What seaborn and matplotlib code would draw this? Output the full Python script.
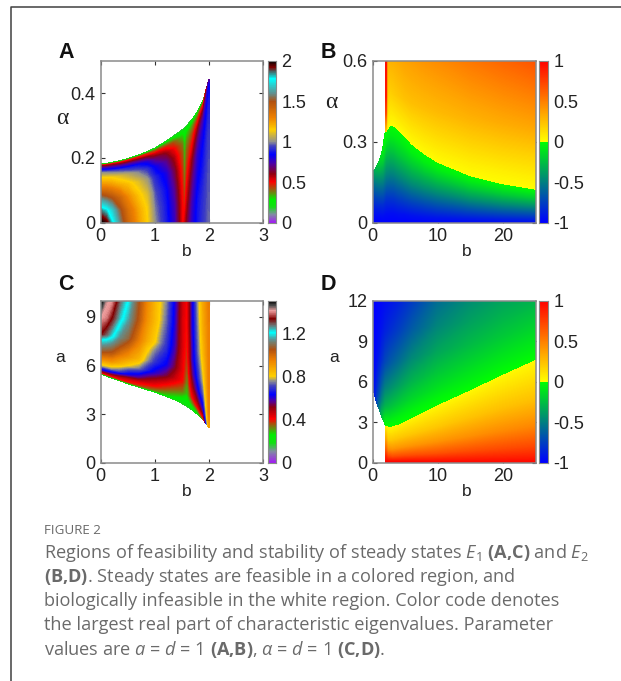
import numpy as np
import seaborn as sns
import matplotlib
matplotlib.use("Agg")
import matplotlib.pyplot as plt
from matplotlib.colors import LinearSegmentedColormap
from matplotlib.lines import Line2D

W, H = 621, 681

# colour stops
stops_a = [(0, "#a020f0"), (.05, "#7f8f9f"), (.1, "#10e010"), (.14, "#00ee00"), (.19, "#7a7a10"), (.25, "#ff0000"),
           (.3, "#900010"), (.36, "#5000a0"), (.42, "#0000ff"), (.47, "#4040c0"), (.5, "#909090"), (.575, "#ffd000"),
           (.65, "#ee8000"), (.75, "#b05010"), (.8, "#609090"), (.89, "#00ffff"), (.94, "#505050"), (.96, "#800000"),
           (1, "#000000")]
stops_c = [(0, "#a020f0"), (.07, "#7f8f9f"), (.12, "#10e010"), (.17, "#00ee00"), (.22, "#7a7a10"), (.27, "#ff0000"),
           (.34, "#900010"), (.38, "#5000a0"), (.42, "#0000ff"), (.47, "#4040c0"), (.505, "#909090"), (.535, "#ffd000"),
           (.635, "#ee8000"), (.7, "#b05010"), (.76, "#609090"), (.805, "#00ffff"), (.85, "#707070"), (.89, "#800000"),
           (.94, "#f0a0a0"), (.97, "#505050"), (1, "#000000")]
stops_bd = [(0, "#0000ff"), (.5, "#00ff00"), (.5, "#ffff00"), (1, "#ff0000")]

# panel A: values along b, rows are fractions of the feasible height
a_b = [0, .1, .2, .35, .5, .7, .85, 1.0, 1.2, 1.35, 1.5, 1.55, 1.6, 1.7, 1.8, 1.9, 2.0]
a_top = [.18, .182, .185, .19, .197, .208, .218, .229, .25, .267, .285, .292, .30, .32, .345, .378, .44]
a_frac = [0, .2, .4, .6, .75, .85, .92, .97, 1]
a_vals = [[2.0, 1.85, 1.6, 1.3, 1.16, 1.0, .78, .58, .2],
          [1.95, 1.8, 1.55, 1.3, 1.15, .98, .75, .54, .2],
          [1.8, 1.7, 1.5, 1.27, 1.14, .95, .73, .53, .2],
          [1.58, 1.52, 1.4, 1.22, 1.1, .92, .7, .5, .2],
          [1.4, 1.36, 1.28, 1.18, 1.05, .88, .68, .48, .2],
          [1.24, 1.22, 1.17, 1.1, .98, .85, .65, .45, .18],
          [1.15, 1.14, 1.1, 1.02, .92, .8, .6, .42, .18],
          [1.0, .98, .95, .9, .82, .68, .54, .38, .15],
          [.88, .87, .85, .8, .7, .6, .48, .32, .15],
          [.76, .74, .7, .64, .57, .5, .42, .29, .15],
          [.5, .5, .48, .45, .42, .38, .32, .26, .15],
          [.52, .45, .38, .32, .3, .28, .26, .24, .15],
          [.62, .56, .5, .44, .40, .35, .30, .25, .15],
          [.78, .74, .68, .6, .5, .43, .36, .28, .18],
          [.87, .86, .82, .77, .68, .58, .46, .33, .2],
          [.92, .91, .88, .85, .8, .72, .6, .45, .25],
          [.97, .96, .95, .93, .9, .88, .85, .8, .7]]

# panel C: rows are fractions from the lower edge up to a = 10
c_b = [0, .1, .2, .35, .5, .7, .85, 1.0, 1.2, 1.35, 1.5, 1.6, 1.7, 1.8, 1.9, 2.0]
c_low = [5.5, 5.37, 5.25, 5.07, 4.9, 4.68, 4.53, 4.37, 4.13, 3.93, 3.68, 3.48, 3.25, 2.98, 2.65, 2.2]
c_frac = [0, .02, .07, .12, .22, .33, .47, .55, .78, 1]
c_vals = [[.2, .4, .62, .78, .95, 1.08, 1.2, 1.33, 1.41, 1.5],
          [.2, .38, .6, .76, .93, 1.06, 1.18, 1.28, 1.39, 1.42],
          [.2, .38, .58, .75, .92, 1.04, 1.15, 1.22, 1.33, 1.4],
          [.2, .38, .52, .7, .86, .97, 1.08, 1.13, 1.23, 1.28],
          [.2, .38, .47, .62, .8, .92, 1.02, 1.08, 1.15, 1.2],
          [.2, .36, .44, .56, .74, .85, .92, .96, 1.03, 1.05],
          [.2, .34, .42, .5, .66, .76, .82, .87, .92, .94],
          [.18, .32, .4, .46, .6, .68, .75, .8, .84, .85],
          [.18, .28, .35, .4, .53, .62, .67, .69, .73, .75],
          [.17, .25, .31, .36, .46, .53, .57, .59, .61, .62],
          [.16, .2, .27, .33, .4, .42, .43, .44, .44, .45],
          [.15, .2, .24, .27, .3, .33, .36, .37, .39, .4],
          [.16, .22, .32, .4, .48, .54, .58, .58, .6, .6],
          [.2, .28, .42, .5, .6, .66, .7, .72, .74, .76],
          [.3, .4, .55, .62, .72, .78, .82, .84, .87, .88],
          [.9, .9, .92, .94, .94, .95, .95, .95, .95, .96]]

# panel B: stable part below the zero line, unstable part above it
bl_b = [0, .5, 1, 1.5, 2, 2.7, 3.3, 4, 5, 6, 8, 10, 15, 20, 25]
bl_z = [.183, .2, .225, .265, .34, .365, .358, .345, .32, .293, .255, .225, .175, .145, .125]
bl_frac = [0, .1, .25, .5, .75, .9, 1]
bl_vals = [[-1, -.98, -.93, -.8, -.62, -.5, -.42],
           [-1, -.97, -.9, -.72, -.52, -.38, -.3],
           [-1, -.97, -.87, -.65, -.42, -.27, -.18],
           [-1, -.95, -.83, -.58, -.32, -.15, -.08],
           [-1, -.95, -.82, -.52, -.25, -.08, -.01],
           [-1, -.95, -.8, -.5, -.22, -.07, -.01],
           [-1, -.95, -.8, -.5, -.22, -.07, -.01],
           [-1, -.94, -.78, -.48, -.2, -.07, -.01],
           [-1, -.94, -.77, -.47, -.2, -.07, -.01],
           [-1, -.93, -.76, -.46, -.2, -.06, -.01],
           [-1, -.92, -.75, -.46, -.2, -.06, -.01],
           [-.99, -.91, -.74, -.46, -.2, -.06, -.01],
           [-.98, -.9, -.73, -.45, -.2, -.07, -.01],
           [-.98, -.89, -.72, -.45, -.2, -.08, -.01],
           [-.97, -.88, -.72, -.45, -.2, -.08, -.01]]
bu_b = [2, 2.2, 2.7, 3.3, 4, 5, 6, 8, 10, 15, 20, 25]
bu_z = [.34, .347, .365, .358, .345, .32, .293, .255, .225, .175, .145, .125]
bu_frac = [0, .1, .25, .5, 1]
bu_vals = [[.2, .4, .7, .9, .95],
           [.02, .06, .12, .2, .3],
           [.01, .05, .1, .18, .3],
           [.01, .05, .11, .2, .31],
           [.01, .06, .12, .22, .33],
           [.01, .06, .125, .24, .36],
           [.01, .06, .13, .25, .38],
           [.01, .06, .135, .26, .42],
           [.01, .06, .14, .27, .45],
           [.01, .06, .15, .3, .53],
           [.01, .06, .16, .33, .6],
           [.01, .07, .17, .36, .67]]

# panel D: unstable part below the zero line, stable part above it
dl_b = [2, 2.25, 3, 5, 10, 15, 20, 25]
dl_z = [2.8, 2.72, 2.72, 3.2, 4.35, 5.45, 6.6, 7.7]
dl_frac = [0, .05, .15, .35, .6, 1]
dl_vals = [[1, .95, .85, .6, .35, .02],
           [1, .92, .75, .45, .22, .01],
           [1, .9, .7, .42, .22, .01],
           [.99, .9, .7, .42, .22, .01],
           [.97, .88, .68, .42, .22, .01],
           [.97, .88, .7, .44, .24, .01],
           [.97, .88, .71, .46, .25, .01],
           [.97, .88, .72, .47, .25, .01]]
du_b = [0, .5, 1, 1.5, 2, 2.65, 4, 6, 10, 15, 20, 25]
du_z = [5.63, 4.7, 4.0, 3.3, 2.8, 2.7, 2.9, 3.4, 4.35, 5.45, 6.6, 7.7]
du_frac = [0, .05, .15, .3, .5, .75, 1]
du_vals = [[-1, -1, -1, -1, -1, -1, -1],
           [-.85, -.88, -.92, -.96, -.98, -.99, -1],
           [-.55, -.6, -.72, -.82, -.92, -.96, -.98],
           [-.25, -.3, -.48, -.65, -.82, -.92, -.97],
           [-.02, -.1, -.3, -.5, -.72, -.87, -.95],
           [-.01, -.08, -.25, -.45, -.66, -.83, -.93],
           [-.01, -.06, -.2, -.38, -.58, -.76, -.88],
           [-.01, -.05, -.16, -.3, -.47, -.65, -.78],
           [-.01, -.04, -.12, -.22, -.35, -.48, -.58],
           [-.01, -.04, -.09, -.17, -.27, -.37, -.45],
           [-.01, -.03, -.07, -.13, -.21, -.29, -.36],
           [-.01, -.03, -.06, -.1, -.16, -.23, -.3]]

caption_head = "FIGURE 2"
caption_lines = [r"Regions of feasibility and stability of steady states $\mathit{E}_1$ $\mathbf{(A{,}C)}$ and $\mathit{E}_2$",
                 r"$\mathbf{(B{,}D)}$. Steady states are feasible in a colored region, and",
                 "biologically infeasible in the white region. Color code denotes",
                 "the largest real part of characteristic eigenvalues. Parameter",
                 r"values are $\mathit{a}$ = $\mathit{d}$ = 1 $\mathbf{(A{,}B)}$, $\mathit{\alpha}$ = $\mathit{d}$ = 1 $\mathbf{(C{,}D)}$."]

sns.set_theme(style="ticks")
plt.rcParams["font.family"] = ["Liberation Sans", "DejaVu Sans"]
plt.rcParams["mathtext.fontset"] = "custom"
plt.rcParams["mathtext.rm"] = "Open Sans"
plt.rcParams["mathtext.it"] = "Open Sans:italic"
plt.rcParams["mathtext.bf"] = "Open Sans:bold"

GRAY = "#8a8a8a"
TICK_SIZE = 13
cmap_a = LinearSegmentedColormap.from_list("a", stops_a, N=512)
cmap_c = LinearSegmentedColormap.from_list("c", stops_c, N=512)
cmap_bd = LinearSegmentedColormap.from_list("bd", stops_bd, N=1024)

fig = plt.figure(figsize=(W / 100, H / 100), dpi=100)


def box(x0, y0, x1, y1):
    return fig.add_axes([x0 / W, 1 - y1 / H, (x1 - x0) / W, (y1 - y0) / H])


def field(ax, b, frac, vals, base, span, cmap, vmin, vmax):
    # grid follows the region's edge: y = base + frac * span per column
    X, F = np.meshgrid(b, frac)
    Y = np.array(base) + F * np.array(span)
    Z = np.array(vals).T
    levels = np.linspace(vmin - .01, vmax + .01, 301)
    cs = ax.contourf(X, Y, Z, levels=levels, cmap=cmap, vmin=vmin, vmax=vmax)
    cs.set_edgecolor("face")
    cs.set_linewidth(.4)


def style(ax, xlim, ylim, xticks, yticks, xlabels, ylabels):
    ax.set_xlim(xlim)
    ax.set_ylim(ylim)
    ax.set_xticks(xticks, xlabels)
    ax.set_yticks(yticks, ylabels)
    ax.tick_params(direction="in", length=3, width=.8, color="#333333", top=True, right=True,
                   labelsize=TICK_SIZE, labelcolor="#222222", pad=4)
    for s in ax.spines.values():
        s.set_color(GRAY)
        s.set_linewidth(1.1)
        s.set_zorder(5)


def colorbar(cax, cmap, vmin, vmax, ticks, labels):
    strip = np.linspace(vmax, vmin, 256).reshape(-1, 1)
    sns.heatmap(strip, ax=cax, cmap=cmap, vmin=vmin, vmax=vmax, cbar=False, xticklabels=False, yticklabels=False)
    cax.set_yticks([(vmax - t) / (vmax - vmin) * 256 for t in ticks], labels)
    cax.yaxis.tick_right()
    cax.tick_params(axis="y", direction="in", length=2.5, width=.7, color="#333333", left=True, right=True,
                    labelsize=TICK_SIZE, labelcolor="#222222", pad=4, rotation=0)
    for s in cax.spines.values():
        s.set_visible(True)
        s.set_color(GRAY)
        s.set_linewidth(.8)


# A
ax = box(100.7, 60.7, 263, 222.7)
field(ax, a_b, a_frac, a_vals, np.zeros(len(a_b)), a_top, cmap_a, 0, 2)
style(ax, (0, 3), (0, .5), [0, 1, 2, 3], [0, .2, .4], ["0", "1", "2", "3"], ["0", "0.2", "0.4"])
colorbar(box(267.7, 60.7, 276, 222.7), cmap_a, 0, 2, [0, .5, 1, 1.5, 2], ["0", "0.5", "1", "1.5", "2"])

# B
ax = box(372.7, 60.7, 535.7, 222.7)
field(ax, bl_b, bl_frac, bl_vals, np.zeros(len(bl_b)), bl_z, cmap_bd, -1, 1)
field(ax, bu_b, bu_frac, bu_vals, bu_z, .6 - np.array(bu_z), cmap_bd, -1, 1)
style(ax, (0, 25), (0, .6), [0, 10, 20], [0, .3, .6], ["0", "10", "20"], ["0", "0.3", "0.6"])
colorbar(box(539.3, 60.7, 548, 222.7), cmap_bd, -1, 1, [-1, -.5, 0, .5, 1], ["-1", "-0.5", "0", "0.5", "1"])

# C
ax = box(100.7, 300.7, 263, 462.7)
field(ax, c_b, c_frac, c_vals, c_low, 10 - np.array(c_low), cmap_c, 0, 1.5)
style(ax, (0, 3), (0, 10), [0, 1, 2, 3], [0, 3, 6, 9], ["0", "1", "2", "3"], ["0", "3", "6", "9"])
colorbar(box(267.7, 300.7, 276, 462.7), cmap_c, 0, 1.5, [0, .4, .8, 1.2], ["0", "0.4", "0.8", "1.2"])

# D
ax = box(372.7, 300.7, 535.7, 462.7)
field(ax, dl_b, dl_frac, dl_vals, np.zeros(len(dl_b)), dl_z, cmap_bd, -1, 1)
field(ax, du_b, du_frac, du_vals, du_z, 12 - np.array(du_z), cmap_bd, -1, 1)
style(ax, (0, 25), (0, 12), [0, 10, 20], [0, 3, 6, 9, 12], ["0", "10", "20"], ["0", "3", "6", "9", "12"])
colorbar(box(539.3, 300.7, 548, 462.7), cmap_bd, -1, 1, [-1, -.5, 0, .5, 1], ["-1", "-0.5", "0", "0.5", "1"])


def put(x, y, s, **kw):
    fig.text(x / W, 1 - y / H, s, ha=kw.pop("ha", "center"), va=kw.pop("va", "center"), **kw)


for x, y, s in [(66, 53, "A"), (328, 53, "B"), (66, 285, "C"), (328, 285, "D")]:
    put(x, y, s, fontsize=15.5, fontweight="bold", color="#111111")
for x, y in [(187, 251), (467, 251), (187, 491), (467, 491)]:
    put(x, y, "b", fontsize=12.5, color="#222222")
put(62, 118, "α", fontsize=17, family="Liberation Serif", color="#222222")
put(331, 103, "α", fontsize=17, family="Liberation Serif", color="#222222")
put(60, 357, "a", fontsize=12.5, color="#222222")
put(334, 357, "a", fontsize=12.5, color="#222222")

# card frame on the left and top
fig.add_artist(Line2D([11 / W, 11 / W, 1], [0, 1 - 6.5 / H, 1 - 6.5 / H], color="#404040", lw=1.1))

put(44, 531, caption_head, ha="left", family="Open Sans", fontsize=9.6, color="#6a6a6a")
for i, line in enumerate(caption_lines):
    put(44, 553 + 24 * i, line, ha="left", family="Open Sans", fontsize=13.1, color="#6a6a6a")

fig.savefig("out.png", dpi=100)
